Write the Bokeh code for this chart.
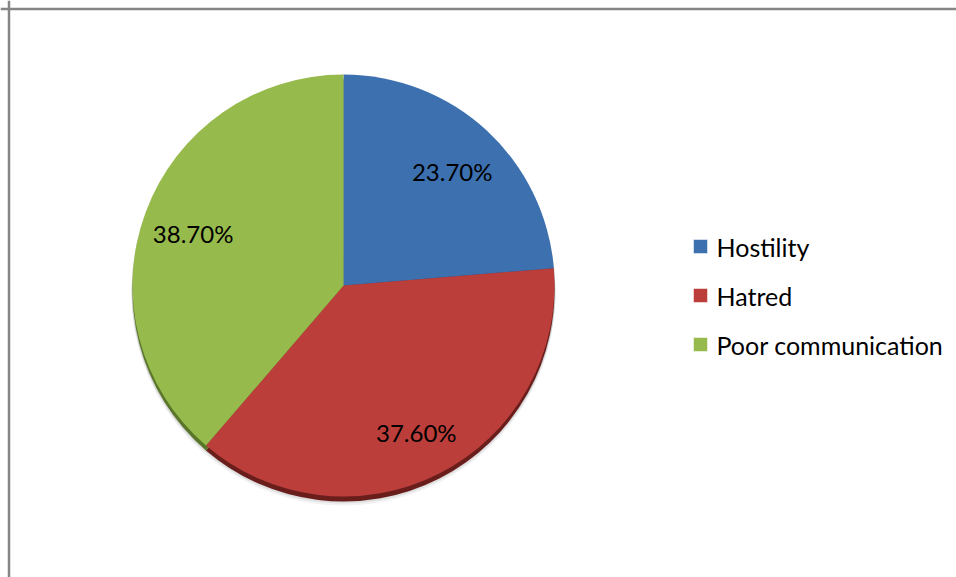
import math
from bokeh.plotting import figure
from bokeh.models import Range1d, ColumnDataSource, Span
from bokeh.core.properties import value
from bokeh.embed import file_html
from bokeh.resources import INLINE

categories = ["Hostility", "Hatred", "Poor communication"]
shares = [23.7, 37.6, 38.7]
labels = ["23.70%", "37.60%", "38.70%"]
colors = ["#3c70af", "#bc3e3b", "#97ba4d"]
dark_colors = ["#23497a", "#6a1e1c", "#5a7629"]

W, H = 956, 577
CX, CY, R = 343, H - 285, 211
FONT = "Lato"

p = figure(width=W, height=H, x_range=Range1d(0, W), y_range=Range1d(0, H),
           output_backend="svg", toolbar_location=None, min_border=0)
p.xaxis.visible = False
p.yaxis.visible = False
p.grid.visible = False
p.outline_line_color = None
p.background_fill_color = "white"

total = sum(shares)
starts, ends, lx, ly = [], [], [], []
cum = 0.0
for s in shares:
    a0 = math.pi / 2 - 2 * math.pi * cum / total
    a1 = math.pi / 2 - 2 * math.pi * (cum + s) / total
    mid = (a0 + a1) / 2
    starts.append(a0)
    ends.append(a1)
    lx.append(CX + 0.76 * R * math.cos(mid))
    ly.append(CY + 0.76 * R * math.sin(mid) - 4)
    cum += s

src = ColumnDataSource(dict(cat=categories, start=starts, end=ends, color=colors,
                            dark=dark_colors, lx=lx, ly=ly, label=labels))

# soft shadow
for off, alpha in [(8, 0.05), (6, 0.07), (4, 0.09)]:
    p.circle(x=CX, y=CY - off, radius=R + 1, fill_color="black", fill_alpha=alpha, line_color=None)

# bevel (darker rim below)
p.wedge(x=CX, y=CY - 5, radius=R, start_angle="start", end_angle="end", direction="clock",
        fill_color="dark", line_color=None, source=src)
# main slices
p.wedge(x=CX, y=CY, radius=R, start_angle="start", end_angle="end", direction="clock",
        fill_color="color", line_color=None, source=src)

p.text(x="lx", y="ly", text="label", source=src, text_align="center", text_baseline="middle",
       text_font=value(FONT), text_font_size="24px", text_color="black")

# legend
leg_y = [H - 246, H - 295, H - 344]
leg_src = ColumnDataSource(dict(cat=categories, color=colors, y=leg_y,
                                mx=[700] * 3, tx=[716] * 3))
p.scatter(x="mx", y="y", marker="square", size=14, fill_color="color", line_color="white",
          line_width=0.5, source=leg_src)
p.text(x="tx", y="y", text="cat", source=leg_src, text_align="left", text_baseline="middle",
       text_font=value(FONT), text_font_size="25px", text_color="black")

# border (left and top edges of the chart area)
p.add_layout(Span(location=8.5, dimension="height", line_color="#868686", line_width=2.5))
p.add_layout(Span(location=H - 8.5, dimension="width", line_color="#868686", line_width=2.5))

open("out.html", "w").write(file_html(p, INLINE))
